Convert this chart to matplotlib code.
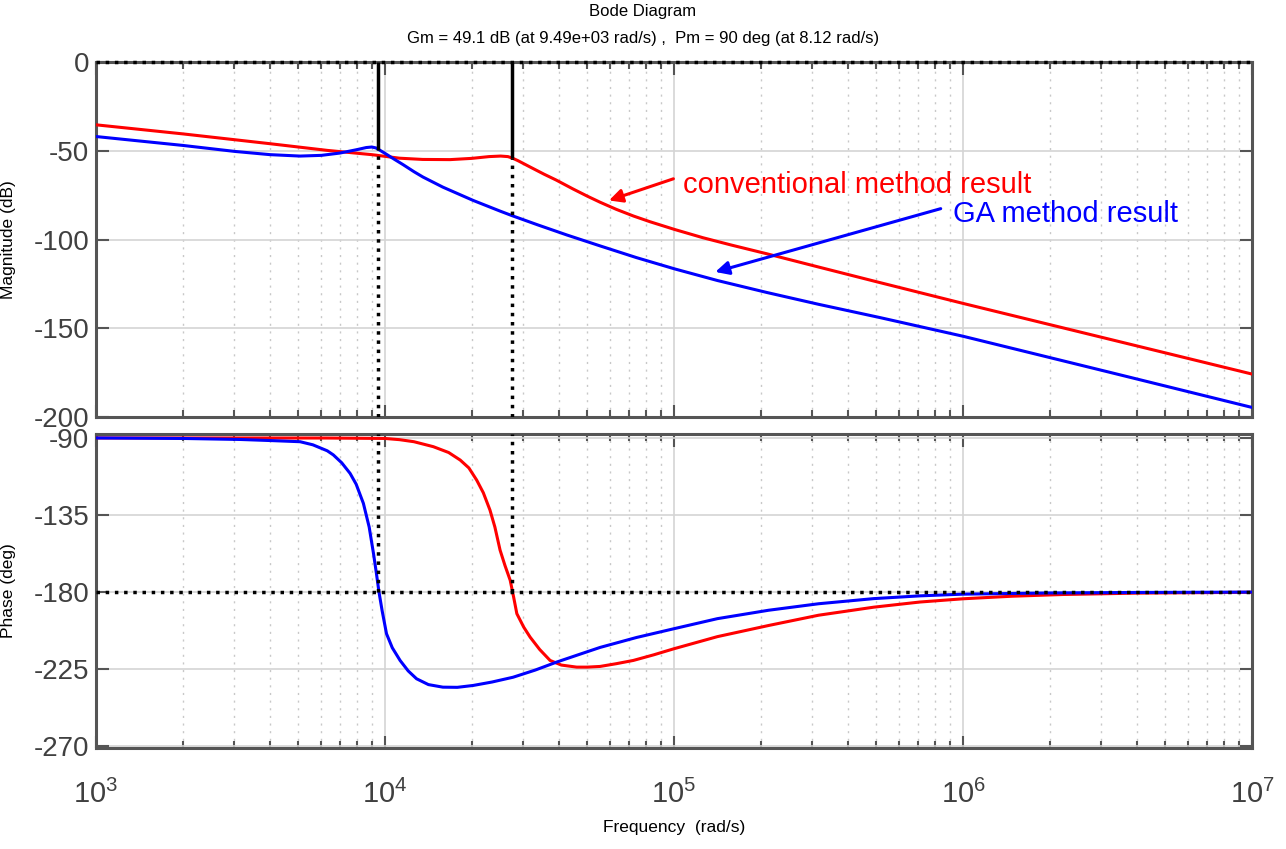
import numpy as np
import matplotlib
matplotlib.use('Agg')
import matplotlib.pyplot as plt
from matplotlib.ticker import LogLocator, NullFormatter, FixedLocator

plt.rcParams['font.family'] = ['Liberation Sans', 'DejaVu Sans']
plt.rcParams['mathtext.default'] = 'regular'
plt.rcParams['axes.unicode_minus'] = False

# values (log10 of frequency in rad/s)
conv_mag_logw = [3.0, 3.3, 3.6, 3.8, 3.954, 4.05, 4.13, 4.225, 4.3, 4.36, 4.40, 4.425, 4.44,
                 4.46, 4.50, 4.55, 4.592, 4.65, 4.70, 4.744, 4.80, 4.86, 4.917, 5.003, 5.1,
                 5.2, 5.32, 5.5, 5.713, 6.0, 6.5, 7.0]
conv_mag_db = [-35.4, -40.5, -46.0, -49.8, -52.2, -54.2, -54.9, -55.0, -54.3, -53.3, -53.0, -53.3, -54.1,
               -55.6, -59.0, -63.2, -66.5, -71.5, -75.6, -79.0, -83.0, -86.8, -90.0, -94.4, -99.0,
               -103.2, -108.0, -115.5, -124.3, -136.0, -155.9, -175.8]

ga_mag_logw = [3.0, 3.3, 3.481, 3.602, 3.706, 3.78, 3.844, 3.902, 3.935, 3.954, 3.968, 3.979,
               4.0, 4.03, 4.063, 4.1, 4.131, 4.2, 4.305, 4.398, 4.44, 4.529, 4.63, 4.744,
               4.87, 5.003, 5.15, 5.32, 5.5, 5.713, 6.0, 6.5, 7.0]
ga_mag_db = [-42.0, -47.0, -50.4, -52.2, -53.0, -52.6, -51.3, -49.4, -48.2, -47.9, -48.4, -49.4,
             -51.5, -54.6, -57.9, -61.8, -64.8, -70.5, -78.0, -84.0, -86.6, -91.8, -97.5, -103.6,
             -110.2, -116.6, -123.1, -129.8, -136.5, -144.0, -154.5, -174.5, -194.6]

conv_ph_logw = [3.0, 3.8, 4.0, 4.05, 4.1, 4.167, 4.22, 4.26, 4.29, 4.317, 4.34, 4.363, 4.38,
                4.398, 4.415, 4.433, 4.445, 4.456, 4.48, 4.502, 4.535, 4.571, 4.61, 4.663, 4.70,
                4.744, 4.80, 4.859, 4.93, 4.999, 5.15, 5.327, 5.5, 5.691, 5.85, 6.0, 6.17,
                6.346, 6.6, 7.0]
conv_ph_deg = [-90.0, -90.05, -90.3, -91.0, -92.2, -95.1, -98.5, -102.9, -107.5, -114.6, -122.0, -132.1, -142.0,
               -155.5, -164.5, -173.1, -183.0, -192.6, -200.5, -206.3, -213.5, -219.9, -222.6, -223.8, -223.8,
               -223.4, -221.8, -219.9, -216.6, -213.1, -206.0, -199.5, -193.5, -188.8, -185.8, -183.9, -182.4,
               -181.4, -180.6, -180.1]

ga_ph_logw = [3.0, 3.3, 3.5, 3.6, 3.706, 3.75, 3.80, 3.821, 3.85, 3.879, 3.90, 3.925, 3.945,
              3.960, 3.970, 3.979, 3.990, 4.005, 4.025, 4.052, 4.08, 4.109, 4.15, 4.2, 4.25,
              4.305, 4.37, 4.443, 4.52, 4.593, 4.67, 4.744, 4.87, 4.999, 5.15, 5.327, 5.5,
              5.691, 5.85, 6.0, 6.3, 6.6, 7.0]
ga_ph_deg = [-90.0, -90.3, -90.9, -91.5, -92.2, -94.0, -97.5, -99.9, -104.5, -110.7, -117.0, -128.2, -142.0,
             -157.5, -169.0, -180.0, -191.0, -204.3, -212.5, -219.9, -226.0, -230.6, -234.0, -235.5, -235.6,
             -234.5, -232.5, -229.7, -225.5, -220.9, -216.5, -212.3, -206.5, -201.4, -195.5, -190.6, -186.8,
             -183.8, -182.2, -181.2, -180.5, -180.2, -180.0]

gm_freq = 9.49e3
gm_mag = -49.4
pm_freq = 2.75e4
pm_mag = -54.1

title = 'Bode Diagram'
subtitle = 'Gm = 49.1 dB (at 9.49e+03 rad/s) ,  Pm = 90 deg (at 8.12 rad/s)'

spine_col = '#555555'

fig = plt.figure(figsize=(12.86, 8.49), dpi=100)
ax1 = fig.add_axes([0.0747, 0.5088, 0.8989, 0.4182])
ax2 = fig.add_axes([0.0747, 0.1190, 0.8989, 0.3698])

for ax in (ax1, ax2):
    ax.set_xscale('log')
    ax.set_xlim(1e3, 1e7)
    ax.xaxis.set_major_locator(LogLocator(base=10, numticks=10))
    ax.xaxis.set_minor_locator(LogLocator(base=10, subs=np.arange(2, 10), numticks=100))
    ax.xaxis.set_minor_formatter(NullFormatter())
    ax.grid(True, which='major', color='#d4d4d4', linestyle='-', linewidth=1.2)
    ax.grid(True, which='minor', axis='x', color='#c8c8c8', linestyle=(0, (1.5, 4)), linewidth=1.0)
    ax.tick_params(which='both', direction='in', top=True, right=True, color=spine_col, width=1.5)
    ax.tick_params(which='major', length=9, labelcolor='#404040')
    ax.tick_params(axis='y', which='major', labelsize=20, pad=5)
    ax.tick_params(which='minor', length=5)
    for s in ax.spines.values():
        s.set_color(spine_col)
        s.set_linewidth(2.2)
    ax.set_axisbelow(True)

# magnitude
ax1.plot(10 ** np.array(conv_mag_logw), conv_mag_db, color='#ff0000', lw=2.2, zorder=3)
ax1.plot(10 ** np.array(ga_mag_logw), ga_mag_db, color='#0000ff', lw=2.2, zorder=3)
ax1.set_ylim(-200, 0)
ax1.yaxis.set_major_locator(FixedLocator([-200, -150, -100, -50, 0]))
ax1.tick_params(labelbottom=False)
ax1.axhline(0, color='black', ls=':', lw=2.5, zorder=4, clip_on=False)
ax1.vlines([gm_freq], gm_mag, 0, color='black', lw=2.5, zorder=4)
ax1.vlines([pm_freq], pm_mag, 0, color='black', lw=2.5, zorder=4)
ax1.vlines([gm_freq], -200, gm_mag, color='black', lw=2.5, ls=':', zorder=4)
ax1.vlines([pm_freq], -200, pm_mag, color='black', lw=2.5, ls=':', zorder=4)
ax1.set_ylabel('Magnitude (dB)', fontsize=12.5)
ax1.yaxis.set_label_coords(-0.069, 0.5)

ax1.annotate('', xy=(5.83e4, -78.5), xytext=(1.016e5, -65.3),
             arrowprops=dict(arrowstyle='-|>', color='#ff0000', lw=2.2, mutation_scale=20))
ax1.text(1.07e5, -73.6, 'conventional method result', color='#ff0000', fontsize=21, va='baseline')
ax1.annotate('', xy=(1.36e5, -118.7), xytext=(8.55e5, -82.2),
             arrowprops=dict(arrowstyle='-|>', color='#0000ff', lw=2.2, mutation_scale=20))
ax1.text(9.2e5, -90.4, 'GA method result', color='#0000ff', fontsize=21, va='baseline')

# phase
ax2.plot(10 ** np.array(conv_ph_logw), conv_ph_deg, color='#ff0000', lw=2.2, zorder=3)
ax2.plot(10 ** np.array(ga_ph_logw), ga_ph_deg, color='#0000ff', lw=2.2, zorder=3)
ax2.set_ylim(-271, -87.7)
ax2.yaxis.set_major_locator(FixedLocator([-270, -225, -180, -135, -90]))
ax2.axhline(-180, color='black', ls=':', lw=2.5, zorder=4)
ax2.vlines([gm_freq, pm_freq], -180, -87.7, color='black', lw=2.5, ls=':', zorder=4)
ax2.set_ylabel('Phase (deg)', fontsize=12.5)
ax2.yaxis.set_label_coords(-0.069, 0.5)
ax2.tick_params(axis='x', which='major', labelsize=21, pad=23)
ax2.set_xlabel('Frequency  (rad/s)', fontsize=12.5, labelpad=8)

fig.text(0.5, 0.986, title, ha='center', va='center', fontsize=12)
fig.text(0.5, 0.955, subtitle, ha='center', va='center', fontsize=12)

fig.savefig('out.png', dpi=100)
